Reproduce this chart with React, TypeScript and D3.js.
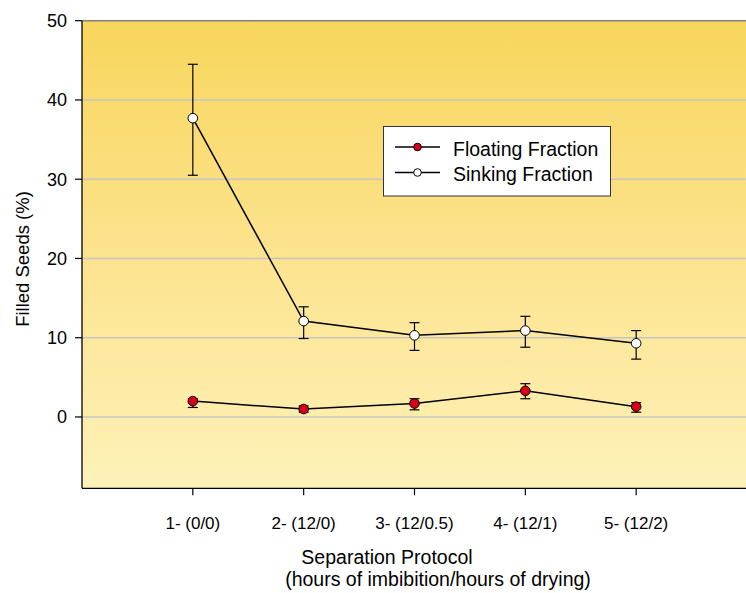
import React from "react";
import * as d3 from "d3";

const categories = ["1- (0/0)", "2- (12/0)", "3- (12/0.5)", "4- (12/1)", "5- (12/2)"];
const sinking = [37.7, 12.1, 10.3, 10.9, 9.3];
const sinkingLo = [30.5, 9.9, 8.4, 8.8, 7.3];
const sinkingHi = [44.5, 13.9, 11.9, 12.7, 10.9];
const floating = [2.0, 1.0, 1.7, 3.3, 1.3];
const floatingLo = [1.2, 0.6, 0.9, 2.3, 0.6];
const floatingHi = [2.3, 1.4, 2.3, 4.2, 1.8];
const yTicks = [0, 10, 20, 30, 40, 50];
const gridTicks = [0, 10, 20, 30, 40];

const W = 746;
const H = 593;
const L = 82;
const T = 20.7;
const B = 488.3;
const R = 747;

const FONT = "'Liberation Sans', Arial, Helvetica, sans-serif";

export default function App() {
  const x = d3.scaleLinear().domain([0, 6]).range([L, R]);
  const y = d3.scaleLinear().domain([-9, 50]).range([B, T]);
  const line = d3
    .line<number>()
    .x((_, i) => x(i + 1))
    .y((d) => y(d));

  const series = [
    { vals: sinking, lo: sinkingLo, hi: sinkingHi, fill: "#ffffff" },
    { vals: floating, lo: floatingLo, hi: floatingHi, fill: "#d9001b" },
  ];

  return (
    <svg
      width={W}
      height={H}
      style={{ position: "absolute", left: 0, top: 0, background: "#fff" }}
      fontFamily={FONT}
    >
      <defs>
        <linearGradient id="bg" x1="0" y1="0" x2="0" y2="1">
          <stop offset="0" stopColor="#f8d65c" />
          <stop offset="0.5" stopColor="#fce38e" />
          <stop offset="1" stopColor="#fef2b9" />
        </linearGradient>
      </defs>
      <rect x={L} y={T} width={R - L} height={B - T} fill="url(#bg)" />
      {gridTicks.map((t) => (
        <line key={t} x1={L} x2={R} y1={y(t)} y2={y(t)} stroke="#c6c6c6" strokeWidth={1.5} />
      ))}
      <line x1={L} x2={R} y1={y(50)} y2={y(50)} stroke="#808080" strokeWidth={1.5} />
      {/* y axis */}
      <line x1={L} x2={L} y1={T} y2={B} stroke="#000" strokeWidth={1.3} />
      {yTicks.map((t) => (
        <g key={t}>
          <line x1={L - 7} x2={L} y1={y(t)} y2={y(t)} stroke="#000" strokeWidth={1.2} />
          <text x={L - 15} y={y(t)} dy="0.35em" textAnchor="end" fontSize={18} fill="#000">
            {t}
          </text>
        </g>
      ))}
      {/* x axis */}
      <line x1={L} x2={R} y1={B} y2={B} stroke="#000" strokeWidth={1.3} />
      {categories.map((c, i) => (
        <g key={c}>
          <line x1={x(i + 1)} x2={x(i + 1)} y1={B} y2={B + 7} stroke="#000" strokeWidth={1.2} />
          <text x={x(i + 1)} y={529} textAnchor="middle" fontSize={17} fill="#000">
            {c}
          </text>
        </g>
      ))}
      <text x={387} y={564} textAnchor="middle" fontSize={19.5} fill="#000">
        Separation Protocol
      </text>
      <text x={438} y={586} textAnchor="middle" fontSize={19.5} fill="#000">
        (hours of imbibition/hours of drying)
      </text>
      <text
        transform={`translate(29,259) rotate(-90)`}
        textAnchor="middle"
        fontSize={18.5}
        fill="#000"
      >
        Filled Seeds (%)
      </text>
      {/* series */}
      {series.map((s, si) => (
        <g key={si}>
          <path d={line(s.vals) || ""} fill="none" stroke="#000" strokeWidth={1.5} />
          {s.vals.map((v, i) => (
            <g key={i}>
              <line x1={x(i + 1)} x2={x(i + 1)} y1={y(s.lo[i])} y2={y(s.hi[i])} stroke="#000" strokeWidth={1.2} />
              <line x1={x(i + 1) - 5} x2={x(i + 1) + 5} y1={y(s.lo[i])} y2={y(s.lo[i])} stroke="#000" strokeWidth={1.2} />
              <line x1={x(i + 1) - 5} x2={x(i + 1) + 5} y1={y(s.hi[i])} y2={y(s.hi[i])} stroke="#000" strokeWidth={1.2} />
              <circle cx={x(i + 1)} cy={y(v)} r={4.8} fill={s.fill} stroke="#000" strokeWidth={1} />
            </g>
          ))}
        </g>
      ))}
      {/* legend */}
      <rect x={383.5} y={126.5} width={227} height={69.5} fill="#fff" stroke="#333" strokeWidth={1} />
      <line x1={395} x2={440} y1={147} y2={147} stroke="#000" strokeWidth={1.3} />
      <circle cx={417.5} cy={147} r={3.8} fill="#d9001b" stroke="#000" strokeWidth={1} />
      <text x={453} y={155.5} fontSize={19.5} fill="#000">Floating Fraction</text>
      <line x1={395} x2={440} y1={172.5} y2={172.5} stroke="#000" strokeWidth={1.3} />
      <circle cx={417.5} cy={172.5} r={3.8} fill="#fff" stroke="#000" strokeWidth={1} />
      <text x={453} y={181} fontSize={19.5} fill="#000">Sinking Fraction</text>
    </svg>
  );
}
